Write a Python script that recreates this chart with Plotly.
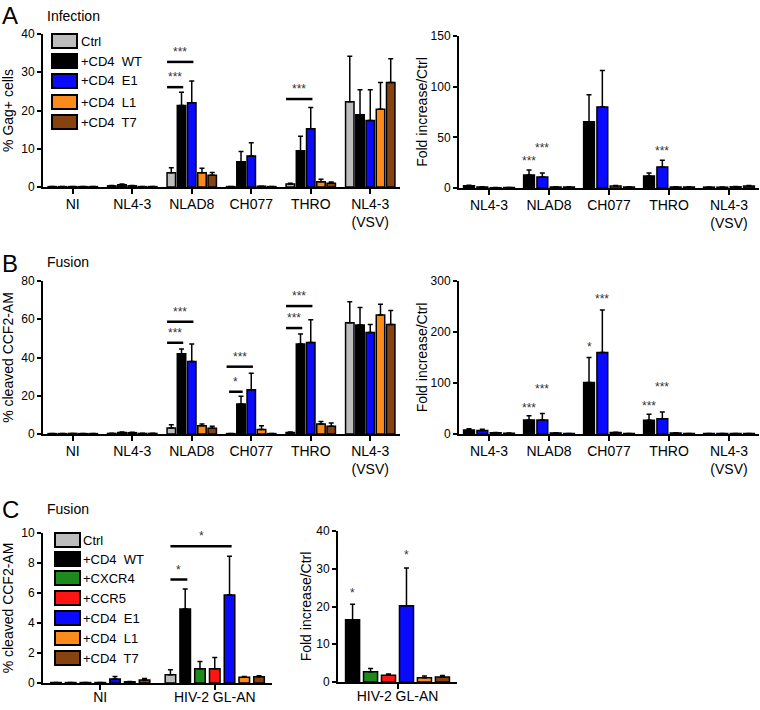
import plotly.graph_objects as go

# ---------------- DATA ----------------
cats_left = ["NI", "NL4-3", "NLAD8", "CH077", "THRO", "NL4-3<br>(VSV)"]
cats_right = ["NL4-3", "NLAD8", "CH077", "THRO", "NL4-3<br>(VSV)"]
series_A = ["Ctrl", "+CD4  WT", "+CD4  E1", "+CD4  L1", "+CD4  T7"]

# Panel A left: % Gag+ cells
inf_ctrl = [0.1, 0.3, 3.7, 0.1, 0.8, 22.3]
inf_wt = [0.1, 0.6, 21.3, 6.6, 9.5, 18.9]
inf_e1 = [0.1, 0.3, 22.0, 8.1, 15.2, 17.4]
inf_l1 = [0.1, 0.1, 3.7, 0.2, 1.4, 20.3]
inf_t7 = [0.1, 0.1, 3.1, 0.1, 1.0, 27.3]
inf_ctrl_err = [0, 0.1, 1.3, 0, 0.2, 11.9]
inf_wt_err = [0, 0.2, 3.5, 2.7, 3.8, 6.5]
inf_e1_err = [0, 0.1, 5.7, 3.5, 5.6, 8.0]
inf_l1_err = [0, 0, 1.2, 0, 0.6, 7.0]
inf_t7_err = [0, 0, 0.7, 0, 0.3, 6.2]

# Panel A right: fold increase / Ctrl
inf_fold_wt = [2.2, 12.8, 65.5, 11.8, 0.9]
inf_fold_e1 = [1.0, 10.9, 80.0, 20.7, 0.8]
inf_fold_l1 = [0.3, 1.0, 2.0, 1.0, 1.2]
inf_fold_t7 = [0.5, 1.0, 1.0, 1.0, 2.0]
inf_fold_wt_err = [0.5, 4.9, 26.6, 3.0, 0.2]
inf_fold_e1_err = [0.3, 3.9, 36.0, 6.6, 0.2]
inf_fold_l1_err = [0.1, 0.2, 0.5, 0.2, 0.3]
inf_fold_t7_err = [0.1, 0.2, 0.2, 0.2, 0.5]

# Panel B left: % cleaved CCF2-AM
fus_ctrl = [0.2, 0.3, 3.1, 0.2, 0.8, 58.2]
fus_wt = [0.2, 0.8, 41.9, 15.7, 47.0, 57.0]
fus_e1 = [0.3, 0.7, 37.9, 23.1, 47.8, 53.1]
fus_l1 = [0.2, 0.3, 4.3, 2.3, 5.2, 62.2]
fus_t7 = [0.2, 0.3, 3.0, 0.2, 4.0, 57.3]
fus_ctrl_err = [0, 0.1, 1.8, 0, 0.2, 11.0]
fus_wt_err = [0, 0.2, 2.6, 4.0, 5.3, 9.2]
fus_e1_err = [0, 0.2, 9.2, 8.7, 11.9, 4.2]
fus_l1_err = [0, 0.1, 0.9, 2.0, 1.4, 5.6]
fus_t7_err = [0, 0.1, 1.0, 0, 1.7, 7.3]

# Panel B right: fold increase / Ctrl
fus_fold_wt = [8.0, 27.5, 101.0, 26.8, 1.0]
fus_fold_e1 = [7.0, 27.5, 160.0, 30.0, 1.0]
fus_fold_l1 = [2.5, 2.0, 3.0, 2.0, 1.0]
fus_fold_t7 = [1.5, 1.0, 1.0, 1.0, 1.0]
fus_fold_wt_err = [2.5, 8.5, 49.0, 11.8, 0.2]
fus_fold_e1_err = [2.5, 12.5, 83.0, 13.0, 0.2]
fus_fold_l1_err = [0.5, 0.5, 0.5, 0.5, 0.2]
fus_fold_t7_err = [0.3, 0.2, 0.2, 0.2, 0.2]

# Panel C
cats_C = ["NI", "HIV-2 GL-AN"]
cats_C_right = ["HIV-2 GL-AN"]
series_C = ["Ctrl", "+CD4  WT", "+CXCR4", "+CCR5", "+CD4  E1", "+CD4  L1", "+CD4  T7"]
c_ctrl = [0.03, 0.55]
c_wt = [0.03, 4.93]
c_cxcr4 = [0.03, 0.95]
c_ccr5 = [0.03, 0.95]
c_e1 = [0.27, 5.86]
c_l1 = [0.08, 0.38]
c_t7 = [0.2, 0.42]
c_ctrl_err = [0, 0.33]
c_wt_err = [0, 1.33]
c_cxcr4_err = [0, 0.49]
c_ccr5_err = [0, 0.75]
c_e1_err = [0.17, 2.59]
c_l1_err = [0.02, 0.06]
c_t7_err = [0.1, 0.07]
c_fold = [16.5, 2.7, 1.8, 20.2, 1.1, 1.3]
c_fold_err = [4.1, 0.9, 0.3, 10.0, 0.5, 0.4]

# ---------------- STYLE ----------------
W, H = 760, 710
FONT = "Liberation Sans, Arial, Helvetica, sans-serif"
COL = {"Ctrl": "#bdbdbd", "+CD4  WT": "#000000", "+CD4  E1": "#0a0aff",
       "+CD4  L1": "#fb8c1c", "+CD4  T7": "#86430f", "+CXCR4": "#1e8a1e",
       "+CCR5": "#ff1414"}


def px(x):
    return x / W


def py(y):
    return 1 - y / H


fig = go.Figure()
shapes = []
annotations = []


def add_panel(k, cats, names, means, errs, slot, bw):
    n = len(names)
    centers = []
    for i in range(n):
        off = -n * slot / 2 + i * slot + (slot - bw) / 2
        centers.append(off + bw / 2)
        fig.add_trace(go.Bar(
            x=cats, y=means[i], name=names[i], offset=off, width=bw,
            marker=dict(color=COL[names[i]], line=dict(color="black", width=1.5)),
            error_y=dict(type="data", array=errs[i], symmetric=False,
                         color="black", thickness=1.5, width=2.5),
            xaxis="x" + k, yaxis="y" + k, showlegend=False, hoverinfo="skip"))
    return centers


def axes(k, xdom, ydom, ncat, yrange, ytickvals, ytitle, standoff, xstandoff):
    fig.layout["xaxis" + k] = dict(
        domain=[px(xdom[0]), px(xdom[1])], anchor="y" + k, type="category",
        range=[-0.5, ncat - 0.5], showline=True, linecolor="black", linewidth=2,
        ticks="outside", ticklen=5, tickwidth=2, tickcolor="black",
        tickfont=dict(size=14, color="black"), showgrid=False, zeroline=False,
        automargin=False, fixedrange=True, ticklabelstandoff=xstandoff)
    fig.layout["yaxis" + k] = dict(
        domain=[py(ydom[1]), py(ydom[0])], anchor="x" + k, range=yrange,
        tickvals=ytickvals, showline=True, linecolor="black", linewidth=2,
        ticks="outside", ticklen=4, tickwidth=2, tickcolor="black",
        tickfont=dict(size=12, color="black"), showgrid=False, zeroline=False,
        title=dict(text=ytitle, font=dict(size=14, color="black"), standoff=standoff),
        automargin=False, fixedrange=True)


def bracket(k, cat, centers, bw, i0, i1, y, text, left_ext, right_ext):
    x0 = cat + centers[i0] - left_ext * bw
    x1 = cat + centers[i1] + right_ext * bw
    shapes.append(dict(type="line", xref="x" + k, yref="y" + k, x0=x0, x1=x1,
                       y0=y, y1=y, line=dict(color="black", width=2.5)))
    annotations.append(dict(xref="x" + k, yref="y" + k, x=(x0 + x1) / 2, y=y,
                            text=text, showarrow=False, yanchor="middle", yshift=10,
                            font=dict(size=12, color="#333")))


def stars(k, cat, centers, i, y, text):
    annotations.append(dict(xref="x" + k, yref="y" + k, x=cat + centers[i], y=y,
                            text=text, showarrow=False, yanchor="middle",
                            font=dict(size=12, color="#333")))


# ---- Panel A left ----
SA, WA = 0.172, 0.142
cA = add_panel("", cats_left, series_A,
               [inf_ctrl, inf_wt, inf_e1, inf_l1, inf_t7],
               [inf_ctrl_err, inf_wt_err, inf_e1_err, inf_l1_err, inf_t7_err], SA, WA)
axes("", (43, 400), (34, 187), 6, [0, 40], [0, 10, 20, 30, 40], "% Gag+ cells", 5, -2)
bracket("", 2, cA, WA, 0, 2, 32.7, "***", 0.5, 0.2)
bracket("", 2, cA, WA, 0, 1, 26.1, "***", 0.5, 0.2)
bracket("", 4, cA, WA, 0, 2, 23.0, "***", 0.5, 0.2)

# ---- Panel A right ----
SR, WR = 0.222, 0.18
cAr = add_panel("2", cats_right, series_A[1:],
                [inf_fold_wt, inf_fold_e1, inf_fold_l1, inf_fold_t7],
                [inf_fold_wt_err, inf_fold_e1_err, inf_fold_l1_err, inf_fold_t7_err], SR, WR)
axes("2", (459, 759), (36, 188), 5, [0, 150], [0, 50, 100, 150], "Fold increase/Ctrl", 0, -2)
stars("2", 1, cAr, 0, 26.6, "***")
stars("2", 1, cAr, 1, 39.5, "***")
stars("2", 3, cAr, 1, 36.5, "***")

# ---- Panel B left ----
cB = add_panel("3", cats_left, series_A,
               [fus_ctrl, fus_wt, fus_e1, fus_l1, fus_t7],
               [fus_ctrl_err, fus_wt_err, fus_e1_err, fus_l1_err, fus_t7_err], SA, WA)
axes("3", (43, 400), (281, 434), 6, [0, 80], [0, 20, 40, 60, 80], "% cleaved CCF2-AM", 5, -2)
bracket("3", 2, cB, WA, 0, 2, 58.7, "***", 0.5, 0.2)
bracket("3", 2, cB, WA, 0, 1, 47.7, "***", 0.5, 0.2)
bracket("3", 3, cB, WA, 0, 2, 35.2, "***", 0.5, 0.2)
bracket("3", 3, cB, WA, 0, 1, 22.1, "*", 0.2, 0.2)
bracket("3", 4, cB, WA, 0, 2, 66.9, "***", 0.5, 0.2)
bracket("3", 4, cB, WA, 0, 1, 55.4, "***", 0.5, 0.2)

# ---- Panel B right ----
cBr = add_panel("4", cats_right, series_A[1:],
                [fus_fold_wt, fus_fold_e1, fus_fold_l1, fus_fold_t7],
                [fus_fold_wt_err, fus_fold_e1_err, fus_fold_l1_err, fus_fold_t7_err], SR, WR)
axes("4", (459, 759), (281, 434), 5, [0, 300], [0, 100, 200, 300], "Fold increase/Ctrl", 0, -2)
stars("4", 1, cBr, 0, 51, "***")
stars("4", 1, cBr, 1, 88, "***")
stars("4", 2, cBr, 0, 170, "*")
stars("4", 2, cBr, 1, 265, "***")
stars("4", 3, cBr, 0, 55, "***")
stars("4", 3, cBr, 1, 93, "***")

# ---- Panel C left ----
SC, WC = 0.129, 0.092
cC = add_panel("5", cats_C, series_C,
               [c_ctrl, c_wt, c_cxcr4, c_ccr5, c_e1, c_l1, c_t7],
               [c_ctrl_err, c_wt_err, c_cxcr4_err, c_ccr5_err, c_e1_err, c_l1_err, c_t7_err],
               SC, WC)
axes("5", (43, 272), (533, 683), 2, [0, 10], [0, 2, 4, 6, 8, 10], "% cleaved CCF2-AM", 5, -5)
bracket("5", 1, cC, WC, 0, 4, 9.12, "*", 0.0, 0.2)
bracket("5", 1, cC, WC, 0, 1, 6.9, "*", 0.0, 0.2)

# ---- Panel C right ----
SCr, WCr = 0.151, 0.118
c_right_names = series_C[1:]
cCr = add_panel("6", cats_C_right, c_right_names,
                [[v] for v in c_fold], [[e] for e in c_fold_err], SCr, WCr)
axes("6", (338, 457), (531, 682), 1, [0, 40], [0, 10, 20, 30, 40], "Fold increase/Ctrl", 1, -5)
stars("6", 0, cCr, 0, 23.7, "*")
stars("6", 0, cCr, 3, 33.7, "*")


# ---- Custom legends ----
def legend(names, x0, y_rows, text_x):
    for nm, yc in zip(names, y_rows):
        shapes.append(dict(type="rect", xref="paper", yref="paper",
                           x0=px(x0), x1=px(x0 + 25), y0=py(yc + 7), y1=py(yc - 7),
                           fillcolor=COL[nm], line=dict(color="black", width=2)))
        annotations.append(dict(xref="paper", yref="paper", x=px(text_x), y=py(yc),
                                text=nm, showarrow=False, xanchor="left", yanchor="middle",
                                font=dict(size=13, color="black")))


legend(series_A, 52, [41, 61, 81, 102, 122], 79)
legend(series_C, 55, [540, 559, 578, 598, 618, 638, 658], 81)

# ---- Panel letters and titles ----
for letter, title, ytop, yc in [("A", "Infection", 0, 16), ("B", "Fusion", 248, 262),
                                ("C", "Fusion", 494, 509)]:
    annotations.append(dict(xref="paper", yref="paper", x=px(0), y=py(ytop), text=letter,
                            showarrow=False, xanchor="left", yanchor="top",
                            font=dict(size=24, color="black")))
    annotations.append(dict(xref="paper", yref="paper", x=px(45), y=py(yc), text=title,
                            showarrow=False, xanchor="left", yanchor="middle",
                            font=dict(size=14, color="black")))

fig.update_layout(
    width=W, height=H, margin=dict(l=0, r=0, t=0, b=0),
    paper_bgcolor="white", plot_bgcolor="white",
    font=dict(family=FONT, color="black"),
    barmode="overlay", showlegend=False,
    shapes=shapes, annotations=annotations)

fig.write_html("out.html", config={"displayModeBar": False},
               post_script="document.body.style.margin='0';document.body.style.overflow='hidden';")
